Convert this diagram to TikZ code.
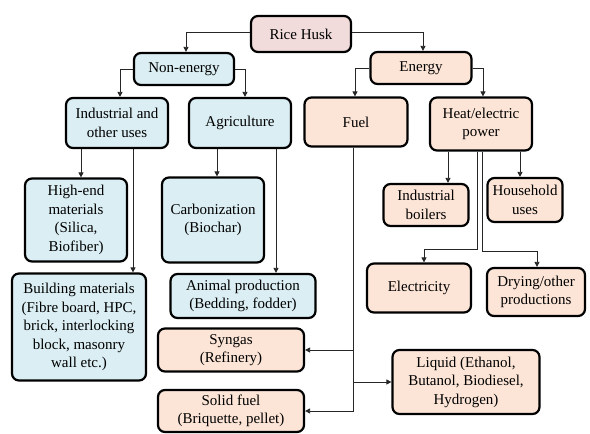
\documentclass[tikz,border=0pt]{standalone}
\usepackage{fontspec}
\setmainfont{Liberation Serif}
\usetikzlibrary{arrows.meta}
\definecolor{cpink}{RGB}{242,220,219}
\definecolor{cblue}{RGB}{218,238,243}
\definecolor{cpeach}{RGB}{252,229,214}
\begin{document}
\begin{tikzpicture}[x=1pt,y=-1pt,
  box/.style={draw=black, line width=2.2pt, rounded corners=7pt, align=center,
    inner sep=1pt, font=\fontsize{15}{18.5}\selectfont},
  bbox/.style={box, fill=cblue},
  pbox/.style={box, fill=cpeach},
  arr/.style={draw=black!85, line width=0.8pt, -{Triangle[length=5pt,width=5pt]}},
  ln/.style={draw=black!85, line width=0.8pt}]
\useasboundingbox (0,0) rectangle (590,434);
\node[box, fill=cpink, minimum width=100, minimum height=36] (rice) at (301,34) {Rice Husk};
\node[bbox, minimum width=100, minimum height=32] (nonen) at (184,69) {Non-energy};
\node[pbox, minimum width=101, minimum height=32] (energy) at (421,68) {Energy};
\node[bbox, minimum width=102, minimum height=50] (indus) at (117,123) {Industrial and\\other uses};
\node[bbox, minimum width=102, minimum height=50] (agri) at (240,123) {Agriculture};
\node[pbox, minimum width=103, minimum height=49] (fuel) at (356,122) {Fuel};
\node[pbox, minimum width=102, minimum height=53] (heat) at (481,124) {Heat/electric\\power};
\node[bbox, minimum width=102, minimum height=83] (high) at (76,220) {High-end\\materials\\(Silica,\\Biofiber)};
\node[bbox, minimum width=134, minimum height=107] (build) at (79,327) {Building materials\\(Fibre board, HPC,\\brick, interlocking\\block, masonry\\wall etc.)};
\node[bbox, minimum width=102, minimum height=85] (carb) at (213,220) {Carbonization\\(Biochar)};
\node[bbox, minimum width=145, minimum height=44] (animal) at (243,296) {Animal production\\(Bedding, fodder)};
\node[pbox, minimum width=146, minimum height=43] (syngas) at (231,350) {Syngas\\(Refinery)};
\node[pbox, minimum width=146, minimum height=42] (solid) at (231,411) {Solid fuel\\(Briquette, pellet)};
\node[pbox, minimum width=147, minimum height=64] (liquid) at (466,382) {Liquid (Ethanol,\\Butanol, Biodiesel,\\Hydrogen)};
\node[pbox, minimum width=85, minimum height=42] (boil) at (426,205) {Industrial\\boilers};
\node[pbox, minimum width=75, minimum height=44] (house) at (525,200) {Household\\uses};
\node[pbox, minimum width=104, minimum height=49] (elec) at (419,288) {Electricity};
\node[pbox, minimum width=98, minimum height=48] (dry) at (536,292) {Drying/other\\productions};
% connectors
\draw[arr] ([yshift=2]rice.west) -| ([xshift=2]nonen.north);
\draw[arr] ([yshift=2]rice.east) -| ([xshift=2]energy.north);
\draw[arr] (nonen.west) -| ([xshift=3]indus.north);
\draw[arr] (nonen.east) -| ([xshift=5]agri.north);
\draw[arr] (energy.west) -| ([xshift=-1]fuel.north);
\draw[arr] (energy.east) -| ([xshift=2]heat.north);
\draw[arr] ([xshift=5]high.north |- indus.south) -- ([xshift=5]high.north);
\draw[arr] ([xshift=16]indus.south) -- ([xshift=16]indus.south |- build.north);
\draw[arr] ([xshift=4]carb.north |- agri.south) -- ([xshift=4]carb.north);
\draw[arr] ([xshift=36]agri.south) -- ([xshift=36]agri.south |- animal.north);
\draw[arr] ([xshift=-3]fuel.south) |- (solid.east);
\draw[arr] ([xshift=-3]fuel.south |- syngas.east) -- (syngas.east);
\draw[arr] ([xshift=-3]fuel.south |- liquid.west) -- (liquid.west);
\draw[arr] ([xshift=22]boil.north |- heat.south) -- ([xshift=22]boil.north);
\draw[arr] ([xshift=-5]house.north |- heat.south) -- ([xshift=-5]house.north);
\coordinate (e1) at (477,249);
\coordinate (d1) at (482,251);
\draw[arr] (e1 |- heat.south) -- (e1) -| ([xshift=5]elec.north);
\draw[arr] (d1 |- heat.south) -- (d1) -| ([xshift=1]dry.north);
\end{tikzpicture}
\end{document}
